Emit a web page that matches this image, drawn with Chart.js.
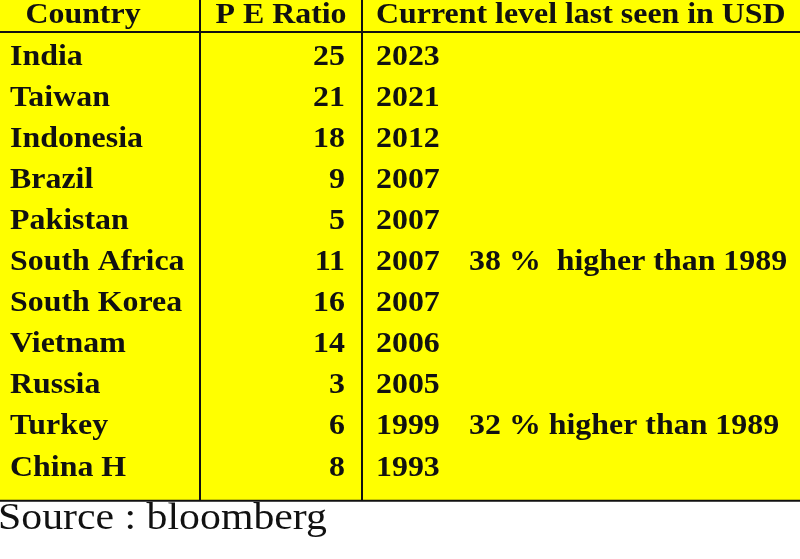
<!DOCTYPE html>
<html>
<head>
<meta charset="utf-8">
<script src="https://cdn.jsdelivr.net/npm/chart.js@4"></script>
<style>
  html, body { margin: 0; padding: 0; background: #fff; }
  #wrap { width: 800px; height: 559px; }
</style>
</head>
<body>
<div id="wrap"><canvas id="tableChart"></canvas></div>
<script>
// table data
const headers = ['Country', 'P E Ratio', 'Current level last seen in USD'];
const countries = ['India', 'Taiwan', 'Indonesia', 'Brazil', 'Pakistan', 'South Africa',
  'South Korea', 'Vietnam', 'Russia', 'Turkey', 'China H'];
const peRatios = [25, 21, 18, 9, 5, 11, 16, 14, 3, 6, 8];
const lastSeen = [2023, 2021, 2012, 2007, 2007, 2007, 2007, 2006, 2005, 1999, 1993];
const notes = ['', '', '', '', '', '38 %  higher than 1989', '', '', '', '32 % higher than 1989', ''];
const source = 'Source : bloomberg';

const STRETCH = 1.1;

// text drawn slightly wider, like the original render
function wideText(ctx, text, px, py, align) {
  ctx.save();
  ctx.translate(px, py);
  ctx.scale(STRETCH, 1);
  ctx.textAlign = align;
  ctx.fillText(text, 0, 0);
  ctx.restore();
}

// draws the table cells through the chart's own scales
const tablePlugin = {
  id: 'table',
  beforeDatasetsDraw(chart) {
    const ctx = chart.ctx;
    const x = chart.scales.x, y = chart.scales.y;
    ctx.save();
    const bottom = y.getPixelForValue(11.84);
    ctx.fillStyle = '#ffff00';
    ctx.fillRect(x.getPixelForValue(0), 0, x.getPixelForValue(800) - x.getPixelForValue(0), bottom);
    ctx.strokeStyle = '#111';
    ctx.lineWidth = 2;
    ctx.beginPath();
    ctx.moveTo(0, y.getPixelForValue(0.44)); ctx.lineTo(800, y.getPixelForValue(0.44));
    ctx.moveTo(0, bottom); ctx.lineTo(800, bottom);
    [200, 362].forEach(c => { ctx.moveTo(x.getPixelForValue(c), 0); ctx.lineTo(x.getPixelForValue(c), bottom); });
    ctx.stroke();

    ctx.fillStyle = '#111';
    ctx.textBaseline = 'middle';
    ctx.font = 'bold 29px "Liberation Serif", "Times New Roman", serif';
    const hy = y.getPixelForValue(0) + 2;
    wideText(ctx, headers[0], x.getPixelForValue(83), hy, 'center');
    wideText(ctx, headers[1], x.getPixelForValue(281), hy, 'center');
    wideText(ctx, headers[2], x.getPixelForValue(376), hy, 'left');
    countries.forEach((c, i) => {
      const py = y.getPixelForValue(i + 1) + 2;
      wideText(ctx, c, x.getPixelForValue(10), py, 'left');
      wideText(ctx, String(lastSeen[i]), x.getPixelForValue(376), py, 'left');
      if (notes[i]) wideText(ctx, notes[i], x.getPixelForValue(469), py, 'left');
      wideText(ctx, String(peRatios[i]), x.getPixelForValue(345), py, 'right');
    });
    ctx.font = '38px "Liberation Serif", "Times New Roman", serif';
    wideText(ctx, source, x.getPixelForValue(-2), y.getPixelForValue(12.24) + 2, 'left');
    ctx.restore();
  }
};

new Chart(document.getElementById('tableChart'), {
  type: 'scatter',
  data: { datasets: [{ data: [], pointRadius: 0 }] },
  options: {
    responsive: true,
    maintainAspectRatio: false,
    animation: false,
    layout: { padding: 0 },
    plugins: { legend: { display: false }, tooltip: { enabled: false } },
    scales: {
      x: { type: 'linear', min: 0, max: 800, display: false },
      y: { type: 'linear', min: -0.34, max: 13.26, reverse: true, display: false }
    }
  },
  plugins: [tablePlugin]
});
</script>
</body>
</html>
